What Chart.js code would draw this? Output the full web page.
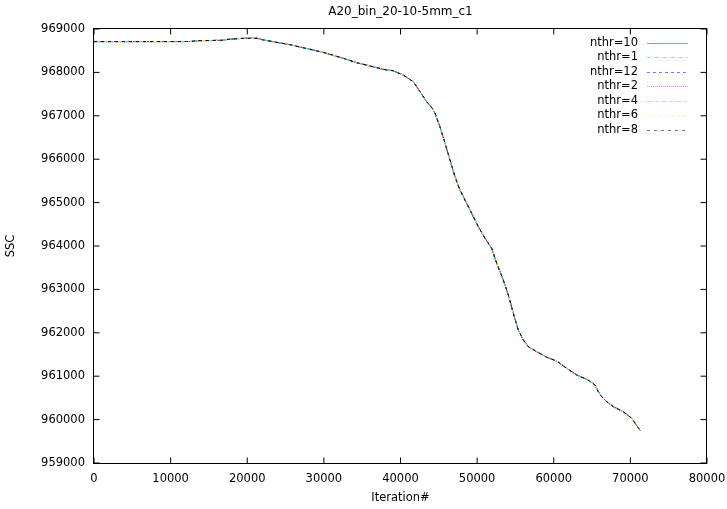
<!DOCTYPE html>
<html>
<head>
<meta charset="utf-8">
<script src="https://cdn.jsdelivr.net/npm/chart.js@4.4.1/dist/chart.umd.min.js"></script>
<style>
html,body{margin:0;padding:0;background:#ffffff;}
#wrap{width:727px;height:509px;}
</style>
</head>
<body>
<div id="wrap"><canvas id="c" width="727" height="509"></canvas></div>
<script>
// ---------------- data ----------------
const chartTitle = 'A20_bin_20-10-5mm_c1';
const xAxisTitle = 'Iteration#';
const yAxisTitle = 'SSC';
const xTickValues = [0, 10000, 20000, 30000, 40000, 50000, 60000, 70000, 80000];
const yTickValues = [959000, 960000, 961000, 962000, 963000, 964000, 965000, 966000, 967000, 968000, 969000];
const seriesLabels = ['nthr=10', 'nthr=1', 'nthr=12', 'nthr=2', 'nthr=4', 'nthr=6', 'nthr=8'];
// all seven runs trace the same curve (they overlap completely in the picture)
const iterations = [0, 5000, 10000, 12600, 13500, 16800, 17500, 19500, 21300, 22050, 25580, 28190, 29890, 32100, 34280, 36410, 37720, 39020, 40360, 41670, 42540, 43420, 44150, 44500, 45150, 45810, 46460, 47110, 47760, 48420, 49290, 50150, 51030, 51900, 52550, 53410, 54070, 54720, 55370, 56020, 56680, 57770, 59080, 60380, 61690, 62990, 64300, 64730, 65380, 65810, 66260, 66910, 67770, 69070, 70170, 71300];
const sscValues = [968710, 968710, 968710, 968712, 968730, 968740, 968762, 968786, 968786, 968750, 968638, 968532, 968463, 968348, 968224, 968131, 968071, 968039, 967940, 967786, 967555, 967325, 967173, 967058, 966749, 966366, 965982, 965597, 965291, 965060, 964754, 964445, 964178, 963947, 963602, 963217, 962872, 962450, 962065, 961835, 961680, 961565, 961436, 961351, 961182, 961028, 960930, 960880, 960800, 960644, 960528, 960413, 960298, 960182, 960030, 959745];

// ---------------- styles ----------------
const seriesColors = ['#ff0000', '#00ff00', '#0000ff', '#ff00ff', '#00ffff', '#ffff00', '#000000'];
const seriesDashes = [[], [4, 4], [3, 3], [1, 1], [6, 3, 2, 3], [3, 4, 1, 4], [3, 4]];
const FONT = 'DejaVu Sans';

const points = iterations.map((it, i) => ({x: it, y: sscValues[i]}));

const datasets = seriesLabels.map((lab, i) => ({
  label: lab,
  data: points,
  borderColor: seriesColors[i],
  borderDash: seriesDashes[i],
  borderWidth: 1,
  pointRadius: 0,
  fill: false,
  tension: 0,
  order: seriesLabels.length - i
}));

const decorPlugin = {
  id: 'decor',
  afterDraw(chart) {
    const ctx = chart.ctx;
    const a = chart.chartArea;
    const xs = chart.scales.x, ys = chart.scales.y;
    ctx.save();
    // frame
    ctx.strokeStyle = '#000';
    ctx.lineWidth = 1;
    ctx.strokeRect(93.5, 28.5, 613, 435);
    // inward mirrored ticks
    ctx.beginPath();
    const tl = 6;
    xTickValues.forEach(v => {
      const px = xs.getPixelForValue(v);
      ctx.moveTo(px, 463.5); ctx.lineTo(px, 463.5 - tl);
      ctx.moveTo(px, 28.5); ctx.lineTo(px, 28.5 + tl);
    });
    yTickValues.forEach(v => {
      const py = ys.getPixelForValue(v);
      ctx.moveTo(93.5, py); ctx.lineTo(93.5 + tl, py);
      ctx.moveTo(706.5, py); ctx.lineTo(706.5 - tl, py);
    });
    ctx.stroke();
    // titles
    ctx.fillStyle = '#000';
    ctx.textAlign = 'center';
    ctx.textBaseline = 'middle';
    const cx = (a.left + a.right) / 2;
    ctx.font = '12px "' + FONT + '"';
    ctx.fillText(chartTitle, cx, 12);
    ctx.font = '11.5px "' + FONT + '"';
    ctx.fillText(xAxisTitle, cx, 498);
    ctx.save();
    ctx.translate(11, (a.top + a.bottom) / 2);
    ctx.rotate(-Math.PI / 2);
    ctx.fillText(yAxisTitle, 0, 0);
    ctx.restore();
    // legend
    chart.data.datasets.forEach((ds, i) => {
      const y = Math.round(43 + i * 14.45) + 0.5;
      ctx.textAlign = 'right';
      ctx.fillStyle = '#000';
      ctx.fillText(ds.label, 638, y);
      ctx.save();
      ctx.globalAlpha = 0.55;
      ctx.strokeStyle = ds.borderColor;
      ctx.setLineDash(ds.borderDash);
      ctx.beginPath();
      ctx.moveTo(647, y);
      ctx.lineTo(688, y);
      ctx.stroke();
      ctx.restore();
    });
    ctx.restore();
  }
};

new Chart(document.getElementById('c'), {
  type: 'line',
  data: { datasets },
  options: {
    responsive: false,
    animation: false,
    devicePixelRatio: 1,
    layout: { padding: { left: 0, top: 29, right: 20, bottom: 0 } },
    plugins: { legend: { display: false }, title: { display: false }, tooltip: { enabled: false } },
    scales: {
      x: {
        type: 'linear',
        min: 0, max: 80000,
        afterBuildTicks(s) { s.ticks = xTickValues.map(v => ({value: v})); },
        afterFit(s) { s.height = 46; s.paddingLeft = 0; s.paddingRight = 0; },
        grid: { display: false, drawTicks: false },
        border: { display: false },
        ticks: { padding: 9, color: '#000', font: { family: FONT, size: 11.5 }, maxRotation: 0, autoSkip: false, callback: v => String(v) }
      },
      y: {
        type: 'linear',
        min: 959000, max: 969000,
        afterBuildTicks(s) { s.ticks = yTickValues.map(v => ({value: v})); },
        afterFit(s) { s.width = 94; s.paddingTop = 0; s.paddingBottom = 0; },
        grid: { display: false, drawTicks: false },
        border: { display: false },
        ticks: { padding: 9, color: '#000', font: { family: FONT, size: 11.5 }, autoSkip: false, callback: v => String(v) }
      }
    }
  },
  plugins: [decorPlugin]
});
</script>
</body>
</html>
